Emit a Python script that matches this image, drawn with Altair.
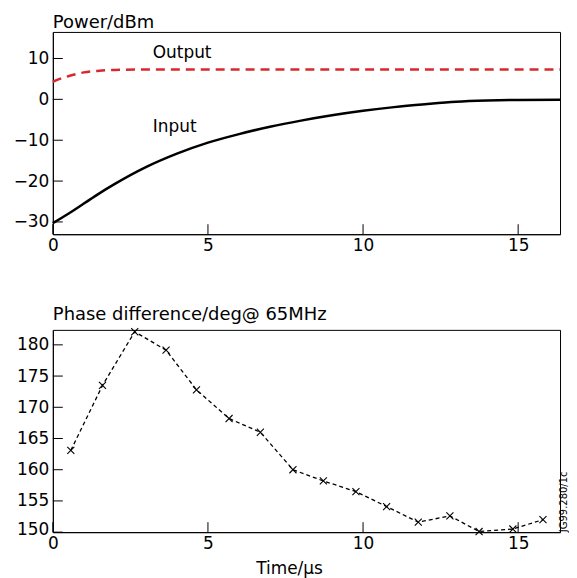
import altair as alt
import pandas as pd

FONT = "DejaVu Sans"

# ---- top panel: power ----
t_in = [0, 0.5, 1, 1.5, 2, 3, 4, 5, 6, 7, 8, 9, 10, 11, 12, 13, 14, 15, 16.35]
p_in = [-30.3, -28.0, -25.5, -23.0, -20.7, -16.6, -13.3, -10.6, -8.5, -6.7,
        -5.2, -3.9, -2.8, -1.9, -1.2, -0.6, -0.3, -0.15, -0.1]
t_out = [0, 0.3, 0.6, 1.0, 1.5, 2.0, 3.0, 16.35]
p_out = [4.3, 5.2, 5.9, 6.6, 7.0, 7.2, 7.3, 7.3]
lab_text = ["Output", "Input"]
lab_t = [3.22, 3.22]
lab_v = [10.2, -7.9]
top_xticks = [0, 5, 10, 15]
top_yticks = [-30, -20, -10, 0, 10]
top_title = ["Power/dBm"]

# ---- bottom panel: phase ----
t_ph = [0.58, 1.6, 2.64, 3.65, 4.63, 5.68, 6.69, 7.74, 8.72, 9.77, 10.76,
        11.78, 12.8, 13.74, 14.83, 15.8]
ph = [163.1, 173.5, 182.1, 179.15, 172.8, 168.2, 166.0, 160.0, 158.2, 156.5,
      154.1, 151.6, 152.6, 150.1, 150.5, 152.0]
bot_yticks = [150, 155, 160, 165, 170, 175, 180]
bot_title = ["Phase difference/deg@ 65MHz"]
note = ["JG99.280/1c"]

W, H = 509, 203
xs = alt.Scale(domain=[0, 16.35], nice=False, zero=False)
ys_top = alt.Scale(domain=[-33, 16.5], nice=False, zero=False)
ys_bot = alt.Scale(domain=[150, 182.4], nice=False, zero=False)

common = dict(labelFont=FONT, labelFontSize=17, labelColor="black",
              domainColor="black", domainWidth=1, ticks=True, tickSize=0,
              grid=False)


def xaxis(title=None):
    kw = dict(common, values=top_xticks, labelFlush=False, labelPadding=3,
              labelBaseline="top")
    if title:
        return alt.Axis(title=title, titleFont=FONT, titleFontSize=17,
                        titleFontWeight="normal", titleColor="black",
                        titleX=237, titleY=42, titleAlign="center",
                        titleBaseline="alphabetic", **kw)
    return alt.Axis(title=None, **kw)


def yaxis(vals, flush=False):
    return alt.Axis(title=None, values=vals, labelPadding=4,
                    labelFlush=flush, labelFlushOffset=6 if flush else 0,
                    **common)


def head(text, dy):
    return alt.Chart(pd.DataFrame({"s": text})).mark_text(
        align="left", baseline="alphabetic", font=FONT, fontSize=18,
        color="black"
    ).encode(text="s:N", x=alt.value(0), y=alt.value(-dy))


XA_TOP = xaxis()
YA_TOP = yaxis(top_yticks)
XA_BOT = xaxis("Time/\u00b5s")
YA_BOT = yaxis(bot_yticks, flush=True)

df_in = pd.DataFrame({"t": t_in, "p": p_in})
df_out = pd.DataFrame({"t": t_out, "p": p_out})
df_lab = pd.DataFrame({"t": lab_t, "p": lab_v, "s": lab_text})

line_in = alt.Chart(df_in).mark_line(
    color="black", strokeWidth=2.5, interpolate="monotone"
).encode(
    x=alt.X("t:Q", scale=xs, axis=XA_TOP),
    y=alt.Y("p:Q", scale=ys_top, axis=YA_TOP),
)
line_out = alt.Chart(df_out).mark_line(
    color="#d7282f", strokeWidth=2.5, strokeDash=[9, 6], interpolate="monotone"
).encode(x=alt.X("t:Q", scale=xs, axis=XA_TOP),
         y=alt.Y("p:Q", scale=ys_top, axis=YA_TOP))
labels = alt.Chart(df_lab).mark_text(
    align="left", baseline="alphabetic", font=FONT, fontSize=17, color="black"
).encode(x=alt.X("t:Q", scale=xs, axis=XA_TOP),
         y=alt.Y("p:Q", scale=ys_top, axis=YA_TOP), text="s:N")

tx_top = alt.Chart(pd.DataFrame({"v": top_xticks})).mark_rule(
    color="black", strokeWidth=1
).encode(x=alt.X("v:Q", scale=xs, axis=XA_TOP), y=alt.value(H), y2=alt.value(H - 10))
ty_top = alt.Chart(pd.DataFrame({"v": top_yticks})).mark_rule(
    color="black", strokeWidth=1
).encode(y=alt.Y("v:Q", scale=ys_top, axis=YA_TOP), x=alt.value(0), x2=alt.value(10))

top = alt.layer(line_in, line_out, labels, tx_top, ty_top,
                head(top_title, 4)).properties(width=W, height=H)

df_ph = pd.DataFrame({"t": t_ph, "v": ph})
ph_line = alt.Chart(df_ph).mark_line(
    color="black", strokeWidth=1.3, strokeDash=[4, 3]
).encode(
    x=alt.X("t:Q", scale=xs, axis=XA_BOT),
    y=alt.Y("v:Q", scale=ys_bot, axis=YA_BOT),
)
ph_pts = alt.Chart(df_ph).mark_point(
    shape="M-1,-1L1,1M-1,1L1,-1", size=50, filled=False, color="black",
    strokeWidth=1.1, opacity=1
).encode(x=alt.X("t:Q", scale=xs, axis=XA_BOT),
         y=alt.Y("v:Q", scale=ys_bot, axis=YA_BOT))
tx_bot = alt.Chart(pd.DataFrame({"v": top_xticks})).mark_rule(
    color="black", strokeWidth=1
).encode(x=alt.X("v:Q", scale=xs, axis=XA_BOT), y=alt.value(H), y2=alt.value(H - 10))
ty_bot = alt.Chart(pd.DataFrame({"v": bot_yticks})).mark_rule(
    color="black", strokeWidth=1
).encode(y=alt.Y("v:Q", scale=ys_bot, axis=YA_BOT), x=alt.value(0), x2=alt.value(10))
note_txt = alt.Chart(pd.DataFrame({"s": note})).mark_text(
    angle=270, align="left", baseline="middle", font=FONT, fontSize=10,
    color="black"
).encode(text="s:N", x=alt.value(W + 3.5), y=alt.value(H))

bottom = alt.layer(ph_line, ph_pts, tx_bot, ty_bot, note_txt,
                   head(bot_title, 10)).properties(width=W, height=H)

chart = alt.vconcat(top, bottom, spacing=96, bounds="flush").properties(
    padding={"left": 4, "top": 4, "right": 0, "bottom": 0},
    background="white",
).configure_view(stroke="black", strokeWidth=1)

chart.save("out.html", embed_options={"renderer": "svg", "actions": False})
